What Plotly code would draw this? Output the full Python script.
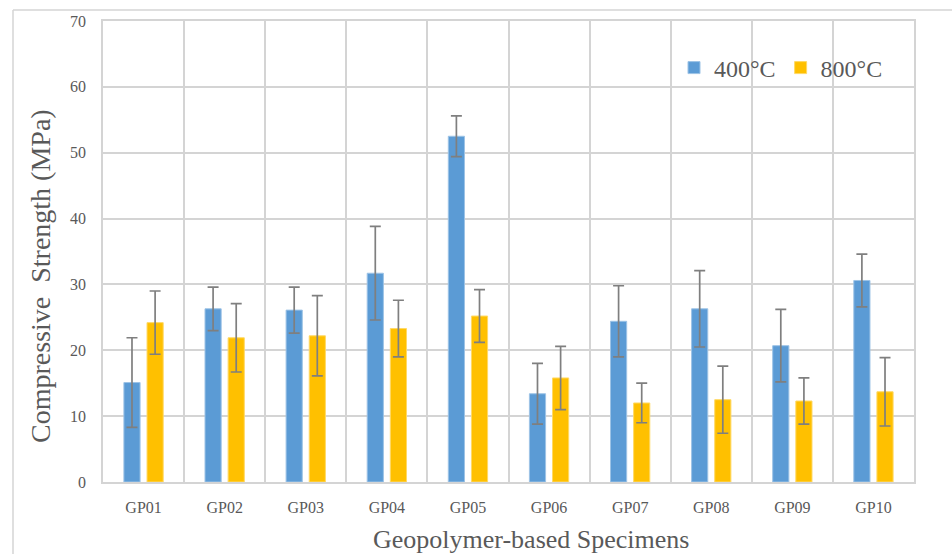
import plotly.graph_objects as go

categories = ["GP01", "GP02", "GP03", "GP04", "GP05", "GP06", "GP07", "GP08", "GP09", "GP10"]
s400 = [15.1, 26.3, 26.1, 31.7, 52.5, 13.4, 24.4, 26.3, 20.7, 30.6]
e400 = [6.8, 3.3, 3.5, 7.1, 3.1, 4.6, 5.4, 5.8, 5.5, 4.0]
s800 = [24.2, 21.9, 22.2, 23.3, 25.2, 15.8, 12.0, 12.5, 12.3, 13.7]
e800 = [4.8, 5.2, 6.1, 4.3, 4.0, 4.8, 3.0, 5.1, 3.5, 5.2]
y_ticks = [0, 10, 20, 30, 40, 50, 60, 70]

FONT = "Liberation Serif"
TXT = "#595959"
GRID = "#d4d4d4"

fig = go.Figure()
fig.add_trace(go.Bar(
    name="400°C", x=categories, y=s400,
    marker=dict(color="#5B9BD5", line=dict(color="#9DC3E6", width=1)),
    error_y=dict(type="data", array=e400, color="#7f7f7f", thickness=1.7, width=5.5),
))
fig.add_trace(go.Bar(
    name="800°C", x=categories, y=s800,
    marker=dict(color="#FFC000", line=dict(color="#FFD966", width=1)),
    error_y=dict(type="data", array=e800, color="#7f7f7f", thickness=1.7, width=5.5),
))

L, R, T, B = 103, 38, 21, 72
W, H = 952, 554
pw, ph = W - L - R, H - T - B

def px(x):
    return (x - L) / pw

def py(y):
    return (H - B - y) / ph

fig.update_layout(
    width=W, height=H,
    margin=dict(l=L, r=R, t=T, b=B, pad=0),
    paper_bgcolor="white", plot_bgcolor="white",
    barmode="group", bargap=0.43, bargroupgap=0.3,
    font=dict(family=FONT, color=TXT, size=16),
    showlegend=True,
    legend=dict(
        orientation="h", x=px(674), y=py(68), xanchor="left", yanchor="middle",
        font=dict(family=FONT, size=24, color=TXT), bgcolor="rgba(0,0,0,0)",
        itemwidth=30, tracegroupgap=0,
    ),
    xaxis=dict(
        type="category", tickson="boundaries", showgrid=True, gridcolor=GRID, gridwidth=1.5,
        showline=True, linecolor=GRID, linewidth=1.5, mirror=True,
        ticks="", tickfont=dict(family=FONT, size=16, color=TXT), ticklabelstandoff=10,
    ),
    yaxis=dict(
        range=[0, 70], tickvals=y_ticks, showgrid=True, gridcolor=GRID, gridwidth=1.5,
        showline=True, linecolor=GRID, linewidth=1.5, mirror=True, zeroline=False,
        ticks="", tickfont=dict(family=FONT, size=16, color=TXT), ticklabelstandoff=12,
    ),
    annotations=[
        dict(text="Compressive\u00a0 Strength (MPa)", xref="paper", yref="paper",
             x=px(40), y=py(276), xanchor="center", yanchor="middle", textangle=-90,
             showarrow=False, font=dict(family=FONT, size=28, color=TXT)),
        dict(text="Geopolymer-based Specimens", xref="paper", yref="paper",
             x=px(531), y=py(539), xanchor="center", yanchor="middle",
             showarrow=False, font=dict(family=FONT, size=26, color=TXT)),
    ],
    shapes=[
        dict(type="line", xref="paper", yref="paper", x0=px(13), x1=px(W + 5), y0=py(10), y1=py(10),
             line=dict(color=GRID, width=1.5), layer="below"),
        dict(type="line", xref="paper", yref="paper", x0=px(13), x1=px(13), y0=py(10), y1=py(H + 5),
             line=dict(color=GRID, width=1.5), layer="below"),
    ],
)

fig.write_html(
    "out.html",
    config={"displayModeBar": False},
    post_script="document.body.style.margin='0';document.body.style.overflow='hidden';",
)
